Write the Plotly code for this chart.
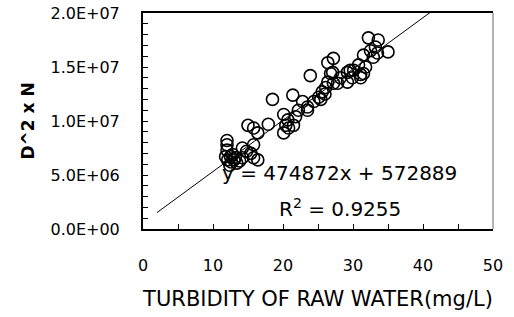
import plotly.graph_objects as go

# Data (turbidity mg/L, D^2 x N)
turbidity = [12.0, 12.0, 12.0, 11.8, 12.1, 12.5, 13.0, 13.4, 12.4, 13.8, 14.2, 12.8, 13.2, 12.6,
             14.2, 14.8, 15.4, 15.8, 15.8, 16.4, 15.8, 15.0, 16.4,
             17.9, 18.5, 20.1, 20.7, 21.8, 20.1, 21.5, 22.2, 23.5, 21.4, 22.8, 23.5, 20.4, 20.8, 23.9,
             24.4, 25.1, 25.6, 26.1, 26.4, 26.8, 27.2, 26.4, 27.2, 27.1, 27.8, 25.4, 26.0,
             28.2, 29.2, 29.2, 29.6, 29.9, 30.1, 31.1, 31.5, 31.8, 30.8, 31.5, 32.9, 33.2, 32.2,
             33.6, 35.0, 31.1, 32.5, 33.5]
d2n = [8.2e6, 7.8e6, 7.3e6, 6.7e6, 6.4e6, 6.7e6, 6.4e6, 6.1e6, 5.9e6, 6.3e6, 6.6e6, 6.9e6, 6.6e6, 6.2e6,
       7.5e6, 7.2e6, 7.0e6, 6.6e6, 7.8e6, 8.9e6, 9.35e6, 9.6e6, 6.4e6,
       9.7e6, 12.0e6, 10.6e6, 10.1e6, 10.4e6, 8.9e6, 9.6e6, 11.0e6, 11.0e6, 12.4e6, 11.8e6, 11.3e6, 9.6e6, 9.35e6, 14.2e6,
       11.8e6, 12.2e6, 12.7e6, 13.1e6, 13.6e6, 14.4e6, 13.5e6, 15.4e6, 15.8e6, 14.5e6, 13.5e6, 12.0e6, 12.5e6,
       14.0e6, 13.6e6, 14.5e6, 14.7e6, 14.0e6, 14.7e6, 14.0e6, 14.4e6, 15.0e6, 15.2e6, 16.1e6, 15.9e6, 16.85e6, 17.7e6,
       17.5e6, 16.4e6, 14.3e6, 16.5e6, 16.3e6]

slope = 474872
intercept = 572889
r_squared = 0.9255
fit_x = [2, 41.5]
fit_y = [slope * v + intercept for v in fit_x]

x_ticks = [0, 10, 20, 30, 40, 50]
y_ticks = [0, 5e6, 10e6, 15e6, 20e6]
y_tick_labels = ["0.0E+00", "5.0E+06", "1.0E+07", "1.5E+07", "2.0E+07"]

FONT = "DejaVu Sans"

fig = go.Figure()
fig.add_trace(go.Scatter(x=fit_x, y=fit_y, mode="lines",
                         line=dict(color="black", width=1), showlegend=False))
fig.add_trace(go.Scatter(x=turbidity, y=d2n, mode="markers",
                         marker=dict(symbol="circle-open", size=12, color="black",
                                     line=dict(width=1.6, color="black")),
                         showlegend=False))

fig.add_annotation(x=45.2, y=5.2e6, xref="x", yref="y", xanchor="right", yanchor="middle",
                   text=f"y = {slope}x + {intercept}", showarrow=False,
                   font=dict(family=FONT, size=20, color="black"))
fig.add_annotation(x=28.2, y=1.95e6, xref="x", yref="y", xanchor="center", yanchor="middle",
                   text=f"R<sup>2</sup> = {r_squared}", showarrow=False,
                   font=dict(family=FONT, size=20, color="black"))

fig.add_shape(type="line", xref="paper", yref="paper", x0=1, x1=1, y0=0, y1=1,
              line=dict(color="#666666", width=1))

fig.update_layout(
    width=514, height=317, autosize=False,
    margin=dict(l=143, r=21, t=13, b=88),
    paper_bgcolor="white", plot_bgcolor="white",
    font=dict(family=FONT, color="black"),
    xaxis=dict(range=[0, 50], tickvals=x_ticks, ticktext=[str(v) for v in x_ticks],
               automargin=False,
               showgrid=False, zeroline=False, showline=True, linecolor="black", linewidth=2,
               mirror=True, ticks="inside", ticklen=5, tickcolor="black", tickwidth=1,
               minor=dict(dtick=5, ticks="inside", ticklen=5, tickcolor="black", tickwidth=1),
               tickfont=dict(family=FONT, size=16, color="black"), ticklabelstandoff=21,
               title=dict(text="TURBIDITY OF RAW WATER(mg/L)", standoff=17,
                          font=dict(family=FONT, size=21, color="black"))),
    yaxis=dict(range=[0, 2e7], tickvals=y_ticks, ticktext=y_tick_labels,
               automargin=False,
               showgrid=False, zeroline=False, showline=True, linecolor="black", linewidth=2,
               ticks="inside", ticklen=5, tickcolor="black", tickwidth=1,
               minor=dict(dtick=1e6, ticks="inside", ticklen=5, tickcolor="black", tickwidth=1),
               tickfont=dict(family=FONT, size=16, color="black"), ticklabelstandoff=18,
               title=dict(text="D^2 x N", standoff=12,
                          font=dict(family=FONT, size=17, color="black", weight="bold"))),
)

# remove the browser's default 8px page margin so the figure fills the window
fig.write_html("out.html",
               config={"displayModeBar": False},
               post_script="document.body.style.margin='0';document.body.style.overflow='hidden';")
